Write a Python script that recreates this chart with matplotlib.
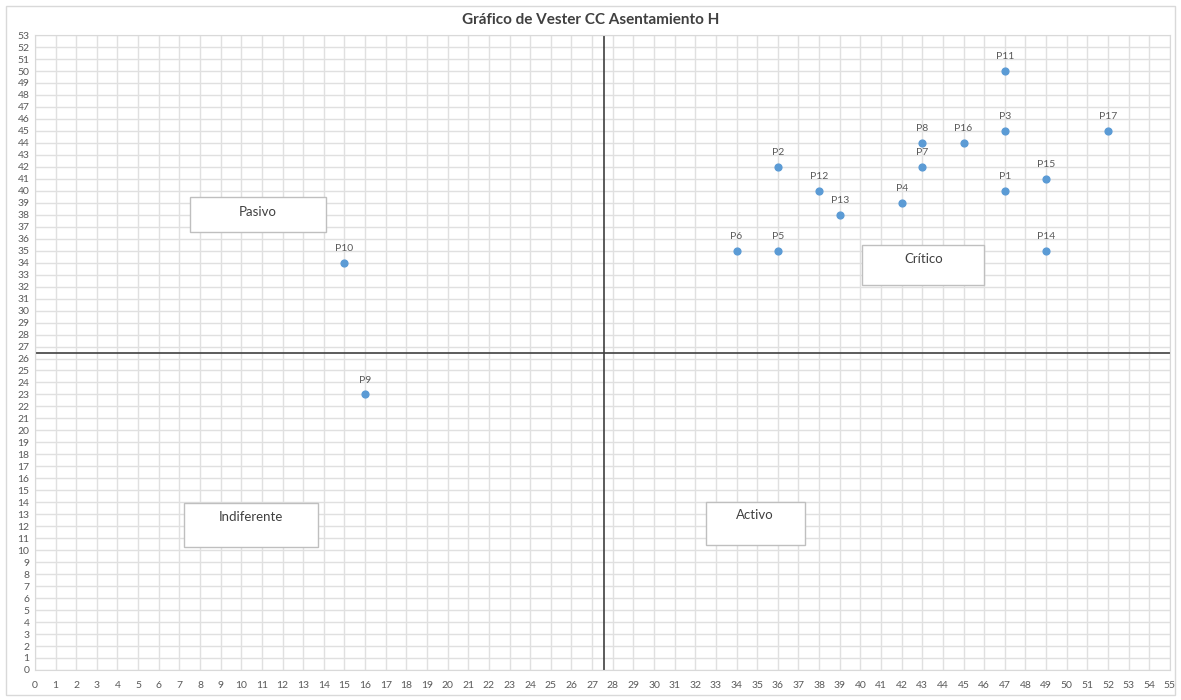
import matplotlib
matplotlib.use('Agg')
import matplotlib.pyplot as plt
from matplotlib.patches import Rectangle

plt.rcParams['font.family'] = ['Lato', 'DejaVu Sans']

#Datos
labels = ['P1', 'P2', 'P3', 'P4', 'P5', 'P6', 'P7', 'P8', 'P9', 'P10',
          'P11', 'P12', 'P13', 'P14', 'P15', 'P16', 'P17']
activos = [47, 36, 47, 42, 36, 34, 43, 43, 16, 15, 47, 38, 39, 49, 49, 45, 52]
pasivos = [40, 42, 45, 39, 35, 35, 42, 44, 23, 34, 50, 40, 38, 35, 41, 44, 45]
corteX = 27.57
corteY = 26.45

fig = plt.figure(figsize=(11.81, 7), dpi=100)
ax = fig.add_axes([0.0296, 0.0429, 0.961, 0.907])

#Borde exterior del grafico
fig.patches.append(Rectangle((0.005, 0.007), 0.99, 0.985, transform=fig.transFigure,
                             fill=False, edgecolor='#d9d9d9', linewidth=1))

ax.set_xlim(0, 55)
ax.set_ylim(0, 53)
ax.set_xticks(range(0, 56))
ax.set_yticks(range(0, 54))
ax.grid(True, color='#e0e0e0', linewidth=1)
ax.set_axisbelow(True)
ax.tick_params(length=0, labelsize=7.5, labelcolor='#595959', pad=8)
ax.tick_params(axis='y', pad=4)
for s in ax.spines.values():
    s.set_color('#d9d9d9')

ax.axvline(corteX, color='#404040', linewidth=1.2)
ax.axhline(corteY, color='#404040', linewidth=1.2)

ax.scatter(activos, pasivos, s=24, color='#5b9bd5', zorder=3)
for lab, x, y in zip(labels, activos, pasivos):
    ax.annotate(lab, (x, y), xytext=(0, 7), textcoords='offset points',
                ha='center', va='bottom', fontsize=7.5, color='#595959')

#Cuadros de cuadrantes
cuadros = [('Pasivo', 7.5, 36.6, 6.6, 2.9, 38.2),
           ('Indiferente', 7.2, 10.3, 6.5, 3.6, 12.8),
           ('Activo', 32.5, 10.4, 4.8, 3.6, 12.9),
           ('Crítico', 40.1, 32.1, 5.9, 3.4, 34.3)]
for txt, x0, y0, w, h, ty in cuadros:
    ax.add_patch(Rectangle((x0, y0), w, h, facecolor='white', edgecolor='#bfbfbf',
                           linewidth=1, zorder=4))
    ax.text(x0 + w / 2, ty, txt, ha='center', va='center', fontsize=9.5,
            color='#404040', zorder=5)

fig.text(0.5, 0.972, 'Gráfico de Vester CC Asentamiento H', ha='center', va='center',
         fontsize=11, fontweight='bold', color='#404040')

fig.savefig('out.png', dpi=100)
